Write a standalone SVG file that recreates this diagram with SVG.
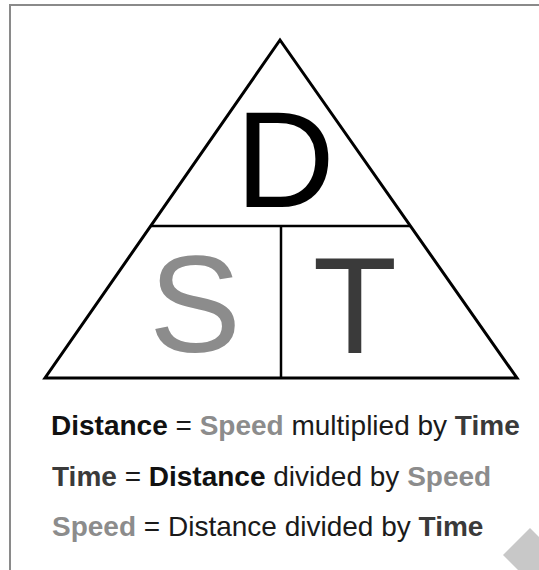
<svg xmlns="http://www.w3.org/2000/svg" width="539" height="570" viewBox="0 0 539 570">
<style>
.frame{fill:none;stroke:#8a8a8a;stroke-width:2}
.tri{fill:none;stroke:#000;stroke-width:3;stroke-linejoin:miter}
.div{fill:none;stroke:#000;stroke-width:2.5}
.big{font-family:"Liberation Sans",Arial,sans-serif;font-size:138px;text-anchor:middle}
.txt{font-family:"Liberation Sans",Arial,sans-serif;font-size:28px;fill:#1a1a1a}
.b{font-weight:bold}
.dist{fill:#111}
.speed{fill:#8c8c8c}
.time{fill:#3a3a3a}
</style>
<rect width="539" height="570" fill="#fff"/>
<g id="frame">
<path class="frame" d="M10,570 V5 H539"/>
</g>
<g id="triangle">
<polygon class="tri" points="280,40 517,378 45,378"/>
</g>
<g id="connectors">
<line class="div" x1="151" y1="226" x2="410" y2="226"/>
<line class="div" x1="281" y1="226" x2="281" y2="378"/>
</g>
<g id="node-D">
<text class="big" x="285" y="207" fill="#000">D</text>
</g>
<g id="node-S">
<text class="big speed" x="195" y="352">S</text>
</g>
<g id="node-T">
<text class="big time" x="355" y="353">T</text>
</g>
<g id="formulas">
<text class="txt" x="51" y="435"><tspan class="b dist">Distance</tspan> = <tspan class="b speed">Speed</tspan> multiplied by <tspan class="b time">Time</tspan></text>
<text class="txt" x="52" y="486"><tspan class="b time">Time</tspan> = <tspan class="b dist">Distance</tspan> divided by <tspan class="b speed">Speed</tspan></text>
<text class="txt" x="52" y="536"><tspan class="b speed">Speed</tspan> = Distance divided by <tspan class="b time">Time</tspan></text>
</g>
<g id="watermark">
<polygon points="530,528 557,555 530,582 503,555" fill="#c8c8c8"/>
</g>
</svg>
